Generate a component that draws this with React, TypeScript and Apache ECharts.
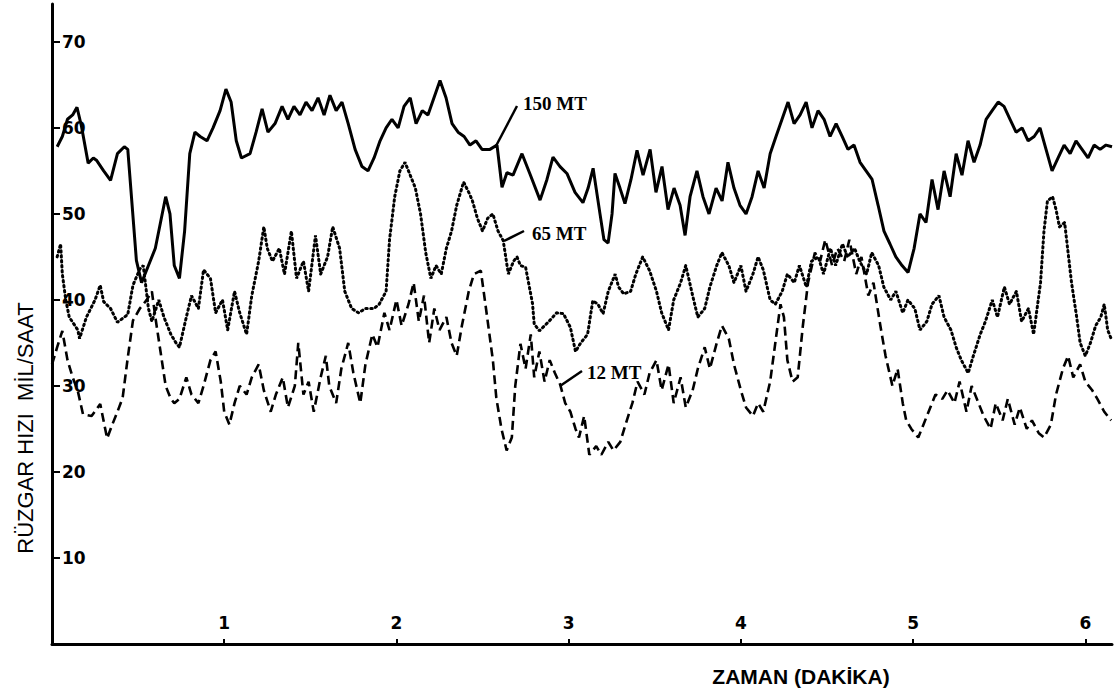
import React, { useEffect, useRef } from "react";
import * as echarts from "echarts";

// Time (minutes) and wind speed (mil/saat) for each height
const T150 = [0.03,0.06,0.09,0.12,0.145,0.17,0.21,0.24,0.26,0.30,0.34,0.38,0.42,0.44,0.49,0.52,0.56,0.60,0.63,0.66,0.685,0.71,0.74,0.77,0.80,0.83,0.86,0.90,0.935,0.976,1.01,1.04,1.07,1.10,1.15,1.185,1.22,1.254,1.295,1.336,1.37,1.405,1.44,1.475,1.51,1.545,1.58,1.614,1.65,1.684,1.72,1.76,1.80,1.835,1.87,1.905,1.94,1.974,2.01,2.044,2.08,2.114,2.15,2.183,2.218,2.253,2.288,2.323,2.358,2.393,2.427,2.462,2.497,2.543,2.584,2.613,2.642,2.677,2.729,2.776,2.834,2.874,2.909,2.95,2.99,3.037,3.083,3.113,3.142,3.182,3.205,3.229,3.252,3.269,3.298,3.327,3.362,3.397,3.432,3.473,3.507,3.542,3.577,3.612,3.647,3.676,3.705,3.745,3.78,3.815,3.856,3.891,3.925,3.96,3.995,4.03,4.065,4.10,4.135,4.17,4.204,4.239,4.274,4.309,4.344,4.379,4.413,4.448,4.483,4.518,4.553,4.588,4.622,4.657,4.692,4.727,4.762,4.797,4.831,4.866,4.90,4.936,4.971,5.006,5.04,5.075,5.11,5.145,5.18,5.215,5.25,5.284,5.319,5.354,5.389,5.424,5.459,5.494,5.528,5.563,5.598,5.633,5.668,5.703,5.737,5.772,5.807,5.842,5.877,5.912,5.946,5.981,6.016,6.051,6.086,6.12,6.155];
const V150 = [57.8,59,61,61.5,62.4,60.3,55.9,56.5,56.2,55,53.9,57,57.8,57.5,44.6,42,44,46,49,52,50,44,42.5,48,57,59.5,59,58.5,60,62,64.5,63,58.5,56.5,57,59.5,62.2,59.5,60.5,62.5,61,62.5,61.5,63,62,63.5,61.5,63.8,62,63,60.5,57.5,55.5,55,56.5,58.5,60,61,60,62.5,63.5,60.5,62,61.5,63.5,65.5,63.5,60.5,59.5,59,58,58.5,57.5,57.5,58,53.1,54.8,54.5,57,54.6,51.6,54,56.6,55.5,54.7,52.5,51.3,53,55.3,50,47,46.6,50,54.7,53,51.2,54,57.4,54.5,57.5,52.5,55.5,50.5,53,51,47.5,52,55,52,50,53,51.5,56,53,51,50,52,55,53,57,59,61,63,60.5,61.5,63,60,62,61,59,60.5,59,57.5,58,56,55,54,51,48,46.5,45,44,43.2,46,50,49,54,50.5,55,52,57,54.5,58.5,56,58,61,62,63,62.5,61,59.5,60,58.5,59,60,57.5,55,56.5,58,57,58.5,57.5,56.5,58,57.5,58,57.8];

const T65 = [0.03,0.05,0.06,0.08,0.10,0.15,0.16,0.20,0.25,0.28,0.30,0.34,0.38,0.44,0.47,0.51,0.53,0.56,0.58,0.62,0.65,0.69,0.72,0.74,0.78,0.81,0.85,0.88,0.92,0.95,0.99,1.02,1.06,1.09,1.13,1.16,1.20,1.23,1.25,1.28,1.32,1.35,1.39,1.42,1.46,1.49,1.53,1.56,1.60,1.63,1.67,1.70,1.74,1.78,1.82,1.87,1.90,1.94,1.96,1.99,2.02,2.05,2.08,2.11,2.14,2.17,2.20,2.23,2.26,2.29,2.32,2.35,2.39,2.42,2.44,2.47,2.50,2.53,2.56,2.59,2.62,2.65,2.68,2.70,2.72,2.75,2.79,2.80,2.83,2.86,2.89,2.93,2.97,3.01,3.04,3.07,3.11,3.14,3.17,3.20,3.23,3.27,3.29,3.32,3.36,3.39,3.43,3.47,3.51,3.54,3.58,3.61,3.65,3.68,3.72,3.75,3.79,3.82,3.86,3.89,3.93,3.96,4.00,4.03,4.07,4.10,4.13,4.17,4.20,4.24,4.27,4.31,4.34,4.38,4.41,4.45,4.48,4.52,4.55,4.59,4.62,4.66,4.69,4.73,4.76,4.80,4.83,4.87,4.90,4.94,4.97,5.01,5.04,5.08,5.11,5.15,5.18,5.22,5.25,5.28,5.32,5.35,5.39,5.42,5.46,5.49,5.53,5.56,5.60,5.63,5.67,5.70,5.74,5.76,5.78,5.81,5.83,5.85,5.88,5.90,5.92,5.95,5.97,6.00,6.03,6.06,6.09,6.11,6.13,6.15];
const V65 = [45,46.5,43,40,38,36.5,35.5,38,40,41.7,39.8,39,37.4,38.3,41.7,43.6,44,39,37.5,40,38,36,35,34.5,38,40.5,39,43.5,42.5,38.5,40,36.5,41,38.5,36,40.5,44.5,48.5,46,44.5,46,43,48,42.5,44.5,41,47.5,43,45,48.5,46,41,39,38.5,39,39,39.5,41,47,52,55,56,54.5,53,50,45.5,42.5,44,43,46,48,51,53.7,52.5,51.6,49.5,48,49.5,50,48,46.9,43,44.5,45,44,43.8,39.6,37.2,36.4,37,37.6,38.5,38.4,36.8,34,35,36,39.9,39.5,38.4,41,43,41.5,40.7,41,43,45,43.4,41,38.5,36.5,40,42,44,40.5,38,39,41.5,44,45.5,44,42,44,41,43,45,43.5,40,39.5,41,43,42,44,41.5,44.5,45,43,46,44,46.5,45,46,44.5,43,45.5,44,41.5,40,41,38.5,40,39,36.5,37.5,39.5,40.5,38,36.5,34.5,33,31.5,33.5,36,37.5,40,38,41.5,39.5,41,37.5,39,36,42,48,51.5,52,50.5,48.5,49,45.5,42,38,35,33.5,35,37,38,39.5,36.5,35.5];

const T12 = [0.00,0.03,0.06,0.09,0.12,0.15,0.18,0.23,0.28,0.32,0.35,0.38,0.41,0.44,0.47,0.51,0.55,0.58,0.60,0.63,0.66,0.69,0.71,0.74,0.78,0.81,0.85,0.88,0.92,0.95,0.98,1.00,1.03,1.06,1.09,1.13,1.16,1.20,1.23,1.27,1.30,1.34,1.37,1.41,1.43,1.46,1.49,1.52,1.56,1.59,1.61,1.65,1.68,1.72,1.75,1.79,1.82,1.86,1.89,1.93,1.96,2.00,2.03,2.07,2.10,2.13,2.16,2.19,2.22,2.25,2.29,2.32,2.35,2.38,2.42,2.45,2.49,2.52,2.56,2.58,2.61,2.64,2.67,2.69,2.72,2.75,2.78,2.80,2.83,2.86,2.89,2.92,2.95,2.98,3.01,3.04,3.06,3.09,3.12,3.16,3.19,3.23,3.26,3.30,3.33,3.37,3.40,3.44,3.47,3.51,3.54,3.58,3.61,3.65,3.68,3.72,3.75,3.79,3.82,3.86,3.89,3.93,3.96,4.00,4.03,4.07,4.10,4.13,4.17,4.20,4.23,4.25,4.27,4.30,4.33,4.36,4.39,4.43,4.46,4.49,4.53,4.56,4.60,4.63,4.67,4.70,4.74,4.77,4.81,4.84,4.88,4.91,4.94,4.96,4.99,5.03,5.06,5.10,5.13,5.17,5.20,5.24,5.27,5.31,5.34,5.38,5.41,5.45,5.48,5.52,5.55,5.59,5.62,5.66,5.69,5.73,5.76,5.80,5.83,5.87,5.90,5.93,5.97,6.00,6.04,6.07,6.11,6.15];
const V12 = [32.5,34.5,36.4,33,31,29.4,26.7,26.5,27.9,23.9,25.5,27,28.6,33.3,37.6,39,40,41,38,34,30,28.5,28,28.5,31,29,28,30,33,34,30.5,27,25.5,28,30,29,31,32.5,29.5,27,29,31,27.5,30,35,29,30.5,27,31,33.5,30,28,32,35,31.5,28,32.5,36,34.5,38.5,36.5,40,37,39.5,42,37.5,40.5,35,39,36.5,38,35,33.5,37,41,43,43.4,39,33,28.6,25,22.5,24,30,34.9,32,36,31,34,30.5,33,31.5,30.2,28,27,25,24,26.5,22,23,22,23.5,22.5,23.5,25.5,28,30.5,29,31.5,33,29.5,32.5,28,31,27.5,29.5,32,34.5,32,35,37,35.5,32.5,29.5,27.5,26.5,28,27,30.5,35,39.5,38,33,30.5,31,37,42,45.5,44.5,47,44,46,44.5,47,43,45,40.5,42,37,33.5,30,32,28,26,25,24,25.5,27.5,29,28.5,29.5,28,30.5,27,30,28,26.5,25,28,26,28.5,25.5,27.5,25,26,24.5,24,25.5,29,32,33.5,31,32.5,30.5,29.5,28.5,27,26];

const X_TICKS = [1, 2, 3, 4, 5, 6];
const Y_TICKS = [10, 20, 30, 40, 50, 60, 70];
const SERIES_NAMES = ["150 MT", "65 MT", "12 MT"];
const X_NAME = "ZAMAN (DAKİKA)";
const Y_NAME = "RÜZGAR HIZI  MİL/SAAT";

const pairs = (t: number[], v: number[]) => t.map((x, i) => [x, v[i]]);

export default function App() {
  const ref = useRef<HTMLDivElement>(null);
  useEffect(() => {
    document.body.style.margin = "0";
    const chart = echarts.init(ref.current!, null, { renderer: "svg" });
    const labelFont = { fontFamily: "Liberation Serif", fontWeight: "bold" as const, fontSize: 19, fill: "#000" };
    chart.setOption({
      animation: false,
      backgroundColor: "#fff",
      grid: { left: 52, right: 3, top: 4, bottom: 51 },
      xAxis: {
        type: "value",
        min: 0,
        max: 6.155,
        interval: 1,
        splitLine: { show: false },
        axisLine: { lineStyle: { color: "#000", width: 3 } },
        axisTick: { inside: true, length: 5, lineStyle: { color: "#000", width: 2 }, customValues: X_TICKS },
        axisLabel: {
          inside: true,
          margin: 13,
          color: "#000",
          fontFamily: "DejaVu Sans",
          fontWeight: "bold",
          fontSize: 17,
          customValues: X_TICKS,
        },
      },
      yAxis: {
        type: "value",
        min: 0,
        max: 74.4,
        interval: 10,
        splitLine: { show: false },
        axisLine: { lineStyle: { color: "#000", width: 3 } },
        axisTick: { inside: true, length: 8, lineStyle: { color: "#000", width: 2 }, customValues: Y_TICKS },
        axisLabel: {
          inside: true,
          margin: 10,
          color: "#000",
          fontFamily: "DejaVu Sans",
          fontWeight: "bold",
          fontSize: 17,
          customValues: Y_TICKS,
        },
      },
      series: [
        {
          name: SERIES_NAMES[0],
          type: "line",
          data: pairs(T150, V150),
          showSymbol: false,
          lineStyle: { color: "#000", width: 3 },
          z: 3,
        },
        {
          name: SERIES_NAMES[1],
          type: "line",
          data: pairs(T65, V65),
          showSymbol: false,
          lineStyle: { color: "#000", width: 3, type: [1.5, 3.5], cap: "round" },
          z: 2,
        },
        {
          name: SERIES_NAMES[2],
          type: "line",
          data: pairs(T12, V12),
          showSymbol: false,
          lineStyle: { color: "#000", width: 2.6, type: [9, 5] },
          z: 2,
        },
      ],
      graphic: [
        {
          type: "text",
          x: 25,
          y: 428,
          rotation: Math.PI / 2,
          style: {
            text: Y_NAME,
            fontFamily: "Liberation Sans",
            fontSize: 22,
            fill: "#000",
            align: "center",
            verticalAlign: "middle",
          },
        },
        {
          type: "text",
          x: 801,
          y: 676,
          style: {
            text: X_NAME,
            fontFamily: "Liberation Sans",
            fontWeight: "bold",
            fontSize: 21,
            fill: "#000",
            align: "center",
            verticalAlign: "middle",
          },
        },
        { type: "text", x: 523, y: 103, style: { ...labelFont, text: SERIES_NAMES[0], verticalAlign: "middle" } },
        { type: "text", x: 532, y: 233, style: { ...labelFont, text: SERIES_NAMES[1], verticalAlign: "middle" } },
        { type: "text", x: 587, y: 372, style: { ...labelFont, text: SERIES_NAMES[2], verticalAlign: "middle" } },
        { type: "line", shape: { x1: 496, y1: 146, x2: 517, y2: 106 }, style: { stroke: "#000", lineWidth: 2.5 } },
        { type: "line", shape: { x1: 504, y1: 241, x2: 524, y2: 231 }, style: { stroke: "#000", lineWidth: 2.5 } },
        { type: "line", shape: { x1: 560, y1: 386, x2: 582, y2: 371 }, style: { stroke: "#000", lineWidth: 2.5 } },
      ],
    });
    return () => chart.dispose();
  }, []);
  return <div ref={ref} style={{ width: 1115, height: 695 }} />;
}
